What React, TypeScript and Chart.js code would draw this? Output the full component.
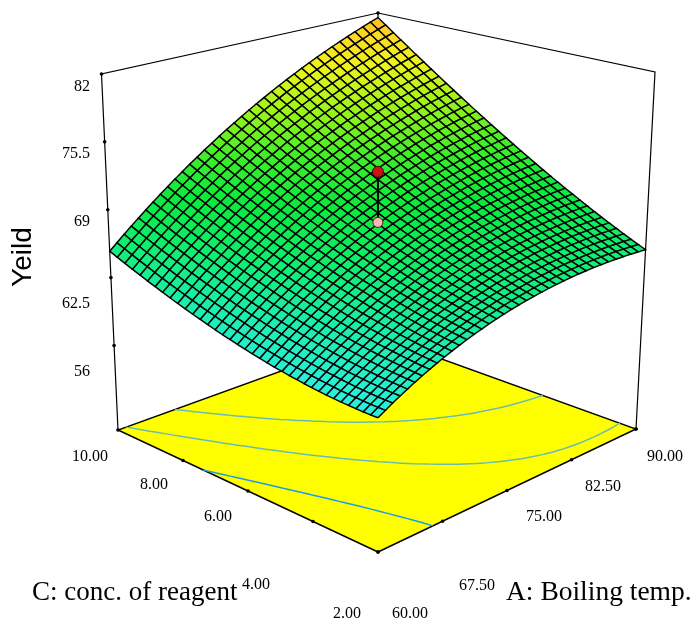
import React, { useEffect, useRef } from "react";
import { Chart, registerables } from "chart.js";

Chart.register(...registerables);

const boilingTemp = [60, 67.5, 75, 82.5, 90];
const reagentConc = [2, 4, 6, 8, 10];
const yieldTicks = [56, 62.5, 69, 75.5, 82];
const yieldMin = 47.9;
const yieldMax = 82;
const contourLevels = [61.8, 65.7, 69.6];
const contourColors = ["#1c9ee6", "#6cbcae", "#6cbcae"];
const centerPredicted = 68.2;
const centerActual = 73;

// Rows: C from 2 to 10; columns: A from 60 to 90
const surfaceYield = [
  [59.23,59.60,59.97,60.32,60.66,60.99,61.30,61.61,61.90,62.18,62.44,62.70,62.94,63.17,63.38,63.59,63.78,63.96,64.13,64.28,64.42,64.55,64.67,64.78,64.87,64.95,65.02,65.08,65.12,65.15,65.17,65.18,65.17,65.15,65.12,65.08,65.03],
  [59.22,59.61,59.98,60.34,60.69,61.03,61.35,61.66,61.96,62.25,62.52,62.79,63.04,63.27,63.50,63.71,63.91,64.10,64.27,64.44,64.59,64.73,64.85,64.97,65.07,65.16,65.23,65.30,65.35,65.39,65.42,65.43,65.44,65.43,65.40,65.37,65.32],
  [59.23,59.62,60.00,60.37,60.73,61.08,61.41,61.73,62.03,62.33,62.61,62.88,63.14,63.39,63.62,63.84,64.05,64.24,64.43,64.60,64.76,64.90,65.04,65.16,65.27,65.37,65.45,65.53,65.59,65.63,65.67,65.69,65.70,65.70,65.69,65.66,65.62],
  [59.25,59.65,60.04,60.42,60.78,61.13,61.47,61.80,62.12,62.42,62.71,62.99,63.26,63.51,63.75,63.98,64.20,64.40,64.59,64.77,64.94,65.09,65.24,65.37,65.49,65.59,65.69,65.77,65.84,65.89,65.94,65.97,65.99,66.00,65.99,65.97,65.94],
  [59.28,59.69,60.08,60.47,60.84,61.20,61.55,61.89,62.21,62.52,62.82,63.10,63.38,63.64,63.89,64.13,64.35,64.56,64.76,64.95,65.13,65.29,65.44,65.58,65.71,65.82,65.92,66.01,66.09,66.15,66.21,66.25,66.28,66.29,66.30,66.29,66.27],
  [59.31,59.73,60.13,60.53,60.91,61.27,61.63,61.98,62.31,62.63,62.94,63.22,63.51,63.78,64.04,64.28,64.51,64.73,64.94,65.14,65.33,65.50,65.65,65.80,65.94,66.06,66.17,66.27,66.35,66.42,66.49,66.54,66.58,66.60,66.62,66.61,66.60],
  [59.36,59.78,60.20,60.60,60.98,61.36,61.72,62.08,62.42,62.74,63.06,63.36,63.65,63.93,64.19,64.45,64.69,64.92,65.13,65.34,65.53,65.71,65.88,66.03,66.18,66.31,66.43,66.53,66.63,66.71,66.78,66.84,66.88,66.91,66.94,66.94,66.94],
  [59.41,59.85,60.27,60.67,61.07,61.45,61.82,62.18,62.53,62.87,63.19,63.50,63.80,64.08,64.36,64.62,64.87,65.10,65.33,65.54,65.74,65.93,66.11,66.27,66.42,66.56,66.69,66.80,66.91,67.00,67.08,67.14,67.20,67.24,67.27,67.29,67.29],
  [59.48,59.92,60.35,60.76,61.16,61.56,61.93,62.30,62.66,63.00,63.33,63.65,63.95,64.25,64.53,64.80,65.06,65.30,65.54,65.76,65.96,66.16,66.35,66.52,66.68,66.83,66.96,67.09,67.20,67.30,67.39,67.47,67.53,67.57,67.61,67.64,67.66],
  [59.55,60.00,60.43,60.86,61.27,61.67,62.05,62.43,62.79,63.14,63.48,63.81,64.12,64.42,64.71,64.99,65.25,65.51,65.75,65.98,66.20,66.40,66.60,66.78,66.94,67.10,67.25,67.38,67.50,67.61,67.70,67.79,67.86,67.92,67.97,68.00,68.03],
  [59.63,60.09,60.53,60.96,61.38,61.79,62.18,62.56,62.93,63.29,63.64,63.97,64.29,64.60,64.90,65.19,65.46,65.72,65.97,66.21,66.44,66.65,66.85,67.04,67.22,67.38,67.54,67.68,67.81,67.92,68.03,68.12,68.20,68.27,68.33,68.37,68.41],
  [59.73,60.19,60.64,61.07,61.50,61.91,62.32,62.71,63.08,63.45,63.80,64.15,64.48,64.79,65.10,65.39,65.68,65.95,66.20,66.45,66.68,66.90,67.11,67.31,67.50,67.67,67.83,67.98,68.12,68.25,68.36,68.46,68.55,68.63,68.70,68.75,68.79],
  [59.82,60.29,60.75,61.20,61.63,62.05,62.46,62.86,63.24,63.62,63.98,64.33,64.67,64.99,65.31,65.61,65.90,66.18,66.44,66.70,66.94,67.17,67.39,67.59,67.79,67.97,68.14,68.30,68.45,68.58,68.70,68.82,68.92,69.00,69.07,69.14,69.19],
  [59.94,60.41,60.88,61.33,61.77,62.20,62.61,63.02,63.41,63.79,64.16,64.52,64.87,65.20,65.52,65.83,66.13,66.41,66.69,66.95,67.20,67.44,67.67,67.88,68.09,68.28,68.46,68.63,68.78,68.92,69.05,69.17,69.28,69.38,69.46,69.54,69.60],
  [60.05,60.54,61.01,61.47,61.91,62.35,62.78,63.19,63.59,63.98,64.35,64.72,65.07,65.41,65.74,66.06,66.37,66.66,66.94,67.21,67.47,67.72,67.96,68.18,68.39,68.59,68.78,68.96,69.12,69.28,69.42,69.55,69.66,69.77,69.86,69.94,70.02],
  [60.19,60.68,61.15,61.62,62.07,62.52,62.95,63.37,63.78,64.17,64.56,64.93,65.29,65.64,65.98,66.30,66.62,66.92,67.21,67.49,67.76,68.01,68.26,68.49,68.71,68.92,69.11,69.30,69.47,69.63,69.78,69.92,70.05,70.17,70.27,70.36,70.44],
  [60.32,60.82,61.30,61.78,62.24,62.69,63.13,63.55,63.97,64.37,64.76,65.15,65.51,65.87,66.22,66.55,66.87,67.18,67.48,67.77,68.05,68.31,68.56,68.80,69.03,69.25,69.45,69.65,69.83,70.00,70.16,70.31,70.45,70.57,70.69,70.79,70.88],
  [60.47,60.97,61.46,61.94,62.41,62.87,63.31,63.75,64.17,64.58,64.98,65.37,65.75,66.11,66.46,66.80,67.14,67.45,67.76,68.06,68.34,68.61,68.88,69.13,69.36,69.59,69.80,70.01,70.20,70.38,70.55,70.71,70.85,70.99,71.11,71.22,71.32],
  [60.63,61.14,61.63,62.12,62.60,63.06,63.51,63.95,64.38,64.80,65.21,65.60,65.99,66.36,66.72,67.07,67.41,67.73,68.05,68.35,68.65,68.93,69.20,69.46,69.70,69.94,70.16,70.37,70.58,70.77,70.94,71.11,71.27,71.41,71.54,71.67,71.78],
  [60.79,61.31,61.81,62.31,62.79,63.26,63.72,64.17,64.60,65.03,65.44,65.85,66.24,66.62,66.99,67.34,67.69,68.03,68.35,68.66,68.96,69.25,69.53,69.80,70.05,70.30,70.53,70.75,70.96,71.16,71.35,71.53,71.69,71.85,71.99,72.12,72.24],
  [60.97,61.49,62.00,62.50,62.99,63.47,63.93,64.39,64.83,65.26,65.69,66.10,66.50,66.88,67.26,67.62,67.98,68.32,68.65,68.97,69.28,69.58,69.87,70.14,70.41,70.66,70.91,71.14,71.36,71.57,71.76,71.95,72.12,72.29,72.44,72.58,72.71],
  [61.15,61.68,62.20,62.70,63.20,63.68,64.16,64.62,65.07,65.51,65.94,66.35,66.76,67.16,67.54,67.91,68.28,68.63,68.97,69.30,69.61,69.92,70.22,70.50,70.78,71.04,71.29,71.53,71.76,71.98,72.18,72.38,72.56,72.74,72.90,73.05,73.19],
  [61.34,61.88,62.40,62.92,63.42,63.91,64.39,64.86,65.31,65.76,66.20,66.62,67.04,67.44,67.83,68.21,68.58,68.94,69.29,69.63,69.95,70.27,70.57,70.86,71.15,71.42,71.68,71.93,72.17,72.40,72.61,72.82,73.01,73.20,73.37,73.53,73.68],
  [61.55,62.09,62.62,63.14,63.64,64.14,64.63,65.10,65.57,66.02,66.47,66.90,67.32,67.73,68.13,68.52,68.90,69.26,69.62,69.97,70.30,70.62,70.94,71.24,71.53,71.81,72.08,72.34,72.59,72.83,73.05,73.27,73.47,73.67,73.85,74.02,74.18],
  [61.76,62.30,62.84,63.36,63.88,64.38,64.88,65.36,65.83,66.29,66.74,67.18,67.61,68.03,68.44,68.83,69.22,69.59,69.96,70.31,70.66,70.99,71.31,71.62,71.92,72.21,72.49,72.76,73.02,73.26,73.50,73.73,73.94,74.14,74.34,74.52,74.69],
  [61.98,62.53,63.08,63.61,64.13,64.64,65.14,65.62,66.10,66.57,67.03,67.48,67.91,68.34,68.75,69.16,69.55,69.93,70.31,70.67,71.02,71.36,71.69,72.01,72.32,72.62,72.91,73.19,73.45,73.71,73.96,74.19,74.42,74.63,74.84,75.03,75.21],
  [62.21,62.77,63.31,63.85,64.38,64.90,65.40,65.90,66.38,66.86,67.32,67.78,68.22,68.65,69.07,69.49,69.89,70.28,70.66,71.03,71.39,71.74,72.08,72.41,72.73,73.04,73.33,73.62,73.90,74.17,74.42,74.67,74.90,75.13,75.34,75.54,75.74],
  [62.45,63.02,63.57,64.11,64.64,65.17,65.68,66.18,66.67,67.15,67.63,68.09,68.54,68.98,69.41,69.83,70.24,70.64,71.03,71.41,71.77,72.13,72.48,72.82,73.15,73.46,73.77,74.07,74.35,74.63,74.90,75.15,75.40,75.63,75.86,76.07,76.28],
  [62.70,63.27,63.83,64.37,64.91,65.44,65.96,66.47,66.97,67.46,67.94,68.40,68.86,69.31,69.75,70.17,70.59,71.00,71.40,71.78,72.16,72.53,72.89,73.23,73.57,73.90,74.21,74.52,74.82,75.10,75.38,75.64,75.90,76.14,76.38,76.60,76.82],
  [62.96,63.53,64.10,64.65,65.20,65.73,66.26,66.77,67.28,67.77,68.26,68.73,69.20,69.65,70.10,70.53,70.96,71.37,71.78,72.17,72.56,72.94,73.30,73.66,74.00,74.34,74.66,74.98,75.29,75.58,75.87,76.15,76.41,76.67,76.91,77.15,77.38],
  [63.23,63.80,64.38,64.94,65.49,66.03,66.56,67.08,67.59,68.09,68.58,69.07,69.54,70.00,70.45,70.90,71.33,71.75,72.17,72.57,72.96,73.35,73.72,74.09,74.44,74.79,75.12,75.45,75.77,76.07,76.37,76.66,76.93,77.20,77.46,77.70,77.94],
  [63.50,64.09,64.66,65.23,65.78,66.33,66.87,67.40,67.91,68.42,68.92,69.41,69.89,70.36,70.82,71.27,71.71,72.14,72.56,72.98,73.38,73.77,74.15,74.53,74.89,75.25,75.59,75.93,76.25,76.57,76.88,77.17,77.46,77.74,78.01,78.26,78.51],
  [63.79,64.38,64.96,65.53,66.09,66.64,67.19,67.72,68.25,68.76,69.27,69.76,70.25,70.72,71.19,71.65,72.10,72.54,72.97,73.39,73.80,74.20,74.59,74.98,75.35,75.72,76.07,76.41,76.75,77.08,77.40,77.70,78.00,78.29,78.57,78.84,79.10],
  [64.08,64.68,65.26,65.84,66.41,66.97,67.52,68.06,68.59,69.11,69.62,70.12,70.62,71.10,71.58,72.04,72.50,72.95,73.38,73.81,74.23,74.64,75.04,75.44,75.82,76.19,76.56,76.91,77.26,77.60,77.92,78.24,78.55,78.85,79.14,79.42,79.69],
  [64.39,64.99,65.58,66.16,66.74,67.30,67.85,68.40,68.94,69.46,69.98,70.49,70.99,71.48,71.97,72.44,72.90,73.36,73.81,74.24,74.67,75.09,75.50,75.90,76.29,76.68,77.05,77.42,77.77,78.12,78.46,78.79,79.11,79.42,79.72,80.01,80.29],
  [64.70,65.31,65.90,66.49,67.07,67.64,68.20,68.75,69.29,69.83,70.35,70.87,71.38,71.88,72.37,72.85,73.32,73.78,74.24,74.68,75.12,75.55,75.97,76.38,76.78,77.17,77.55,77.93,78.30,78.65,79.00,79.34,79.67,79.99,80.31,80.61,80.91],
  [65.03,65.64,66.24,66.83,67.41,67.99,68.55,69.11,69.66,70.20,70.73,71.26,71.77,72.28,72.77,73.26,73.74,74.21,74.68,75.13,75.57,76.01,76.44,76.86,77.27,77.67,78.07,78.45,78.83,79.19,79.55,79.90,80.24,80.57,80.90,81.22,81.52],
];

const cornersBase = { front: [378, 552], right: [636, 429], left: [118, 430], back: [378, 336] };
const cornersTop = { front: [378, 148], right: [655, 72], left: [101.5, 74], back: [378, 13] };

const yieldLabelPos = [[82, 372], [76, 304], [82, 222], [76, 154], [82, 87]];
const concLabelPos = [[347, 614], [256, 585], [218, 517], [154, 485], [90, 457]];
const tempLabelPos = [[410, 614], [477, 586], [544, 517], [603, 487], [665, 457]];

const fmt = (v: number) => v.toFixed(2);

function bilinear(q: any, u: number, v: number) {
  const f = (i: number) =>
    q.front[i] * (1 - u) * (1 - v) + q.right[i] * u * (1 - v) + q.left[i] * (1 - u) * v + q.back[i] * u * v;
  return [f(0), f(1)];
}

function project(A: number, C: number, z: number) {
  const u = (A - 60) / 30;
  const v = (C - 2) / 8;
  const b = bilinear(cornersBase, u, v);
  const t = bilinear(cornersTop, u, v);
  const f = (z - yieldMin) / (yieldMax - yieldMin);
  return { x: b[0] + (t[0] - b[0]) * f, y: b[1] + (t[1] - b[1]) * f };
}

const colorStops: [number, number[]][] = [
  [59.2, [42, 240, 226]],
  [63, [24, 238, 164]],
  [66, [14, 238, 104]],
  [69, [10, 234, 60]],
  [72, [64, 238, 40]],
  [75, [155, 244, 24]],
  [78, [236, 244, 28]],
  [80.3, [254, 216, 34]],
  [81.6, [254, 178, 38]],
];

function colorFor(z: number) {
  if (z <= colorStops[0][0]) return `rgb(${colorStops[0][1].join(",")})`;
  for (let i = 1; i < colorStops.length; i++) {
    if (z <= colorStops[i][0]) {
      const [z0, c0] = colorStops[i - 1];
      const [z1, c1] = colorStops[i];
      const t = (z - z0) / (z1 - z0);
      return `rgb(${c0.map((c, k) => Math.round(c + (c1[k] - c) * t)).join(",")})`;
    }
  }
  return `rgb(${colorStops[colorStops.length - 1][1].join(",")})`;
}

function contourPoints(level: number) {
  const rows = surfaceYield.length;
  const cols = surfaceYield[0].length;
  const aAt = (i: number) => 60 + (30 * i) / (cols - 1);
  const cAt = (j: number) => 2 + (8 * j) / (rows - 1);
  const pts: { x: number; y: number }[] = [];
  for (let j = 0; j < rows - 1; j++) {
    for (let i = 0; i < cols - 1; i++) {
      const corners = [
        [aAt(i), cAt(j), surfaceYield[j][i]],
        [aAt(i + 1), cAt(j), surfaceYield[j][i + 1]],
        [aAt(i + 1), cAt(j + 1), surfaceYield[j + 1][i + 1]],
        [aAt(i), cAt(j + 1), surfaceYield[j + 1][i]],
      ];
      const hits: number[][] = [];
      for (let k = 0; k < 4; k++) {
        const p = corners[k];
        const q = corners[(k + 1) % 4];
        if (p[2] < level !== q[2] < level) {
          const t = (level - p[2]) / (q[2] - p[2]);
          hits.push([p[0] + (q[0] - p[0]) * t, p[1] + (q[1] - p[1]) * t]);
        }
      }
      if (hits.length >= 2) {
        pts.push(project(hits[0][0], hits[0][1], yieldMin));
        pts.push(project(hits[1][0], hits[1][1], yieldMin));
        pts.push({ x: NaN, y: NaN });
      }
    }
  }
  return pts;
}

function buildDatasets() {
  const ds: any[] = [];
  const A0 = 60, A1 = 90, C0 = 2, C1 = 10;
  const line = (data: any[], order: number, extra: any = {}) => ({
    data, order, showLine: true, pointRadius: 0, borderColor: "#000", borderWidth: 1.2, fill: false, tension: 0, ...extra,
  });
  const B = (A: number, C: number) => project(A, C, yieldMin);
  const T = (A: number, C: number) => project(A, C, yieldMax);

  ds.push(line([B(A0, C0), B(A1, C0), B(A1, C1), B(A0, C1), B(A0, C0)], 10000, { fill: "shape", backgroundColor: "#ffff00", borderWidth: 1.4 }));
  contourLevels.forEach((lv, i) => {
    ds.push(line(contourPoints(lv), 9000 - i, { borderColor: contourColors[i], borderWidth: 1.5 }));
  });
  ds.push(line([B(A0, C1), T(A0, C1), T(A1, C1), T(A1, C0), B(A1, C0)], 8000));
  ds.push(line([T(A1, C1), B(A1, C1)], 8000));

  const rows = surfaceYield.length;
  const cols = surfaceYield[0].length;
  const aAt = (i: number) => 60 + (30 * i) / (cols - 1);
  const cAt = (j: number) => 2 + (8 * j) / (rows - 1);
  for (let j = 0; j < rows - 1; j++) {
    for (let i = 0; i < cols - 1; i++) {
      const z = [surfaceYield[j][i], surfaceYield[j][i + 1], surfaceYield[j + 1][i + 1], surfaceYield[j + 1][i]];
      const p0 = project(aAt(i), cAt(j), z[0]);
      const data = [p0, project(aAt(i + 1), cAt(j), z[1]), project(aAt(i + 1), cAt(j + 1), z[2]), project(aAt(i), cAt(j + 1), z[3]), p0];
      ds.push(line(data, 5000, { fill: "shape", backgroundColor: colorFor((z[0] + z[1] + z[2] + z[3]) / 4), borderColor: "#000", borderWidth: 1.45 }));
    }
  }

  const dots = [
    ...yieldTicks.map((z) => project(A0, C1, z)),
    ...reagentConc.map((c) => B(A0, c)),
    ...boilingTemp.map((a) => B(a, C0)),
    B(A1, C0),
    T(A1, C1),
  ];
  ds.push({ data: dots, order: 100, showLine: false, pointRadius: 1.8, pointBackgroundColor: "#000", pointBorderWidth: 0 });
  ds.push(line([project(75, 6, centerPredicted), project(75, 6, centerActual)], 30, { borderWidth: 2 }));
  ds.push({ data: [project(75, 6, centerPredicted)], order: 20, showLine: false, pointRadius: 5, pointBackgroundColor: "#f6b8ae", pointBorderColor: "#3a2020", pointBorderWidth: 1 });
  ds.push({ data: [project(75, 6, centerActual)], order: 10, showLine: false, pointRadius: 5.5, pointBackgroundColor: "#c81414", pointBorderColor: "#3a0808", pointBorderWidth: 1 });
  return ds;
}

const textPlugin = {
  id: "plotText",
  afterDatasetsDraw(chart: any) {
    const ctx = chart.ctx;
    ctx.save();
    ctx.fillStyle = "#000";
    ctx.textAlign = "center";
    ctx.textBaseline = "middle";
    ctx.font = '16px "Liberation Serif"';
    yieldTicks.forEach((v, i) => ctx.fillText(String(v), yieldLabelPos[i][0], yieldLabelPos[i][1]));
    reagentConc.forEach((v, i) => ctx.fillText(fmt(v), concLabelPos[i][0], concLabelPos[i][1]));
    boilingTemp.forEach((v, i) => ctx.fillText(fmt(v), tempLabelPos[i][0], tempLabelPos[i][1]));
    ctx.textAlign = "left";
    ctx.font = '27px "Liberation Serif"';
    ctx.fillText("C: conc. of reagent", 32, 593);
    ctx.font = '27.5px "Liberation Serif"';
    ctx.fillText("A: Boiling temp.", 506, 593);
    ctx.save();
    ctx.translate(23, 257);
    ctx.rotate(-Math.PI / 2);
    ctx.textAlign = "center";
    ctx.font = '28px "Liberation Sans"';
    ctx.fillText("Yeild", 0, 0);
    ctx.restore();
    ctx.restore();
  },
};

export default function App() {
  const ref = useRef<HTMLCanvasElement>(null);
  useEffect(() => {
    const chart = new Chart(ref.current as HTMLCanvasElement, {
      type: "scatter",
      data: { datasets: buildDatasets() },
      plugins: [textPlugin],
      options: {
        animation: false,
        responsive: false,
        devicePixelRatio: 1,
        layout: { padding: 0, autoPadding: false },
        plugins: { legend: { display: false }, tooltip: { enabled: false } },
        scales: {
          x: { type: "linear", min: 0, max: 694, display: false },
          y: { type: "linear", min: 0, max: 623, reverse: true, display: false },
        },
      },
    } as any);
    return () => chart.destroy();
  }, []);
  return (
    <div style={{ position: "absolute", left: 0, top: 0, width: 694, height: 623, background: "#fff" }}>
      <canvas ref={ref} width={694} height={623} style={{ display: "block" }} />
    </div>
  );
}
